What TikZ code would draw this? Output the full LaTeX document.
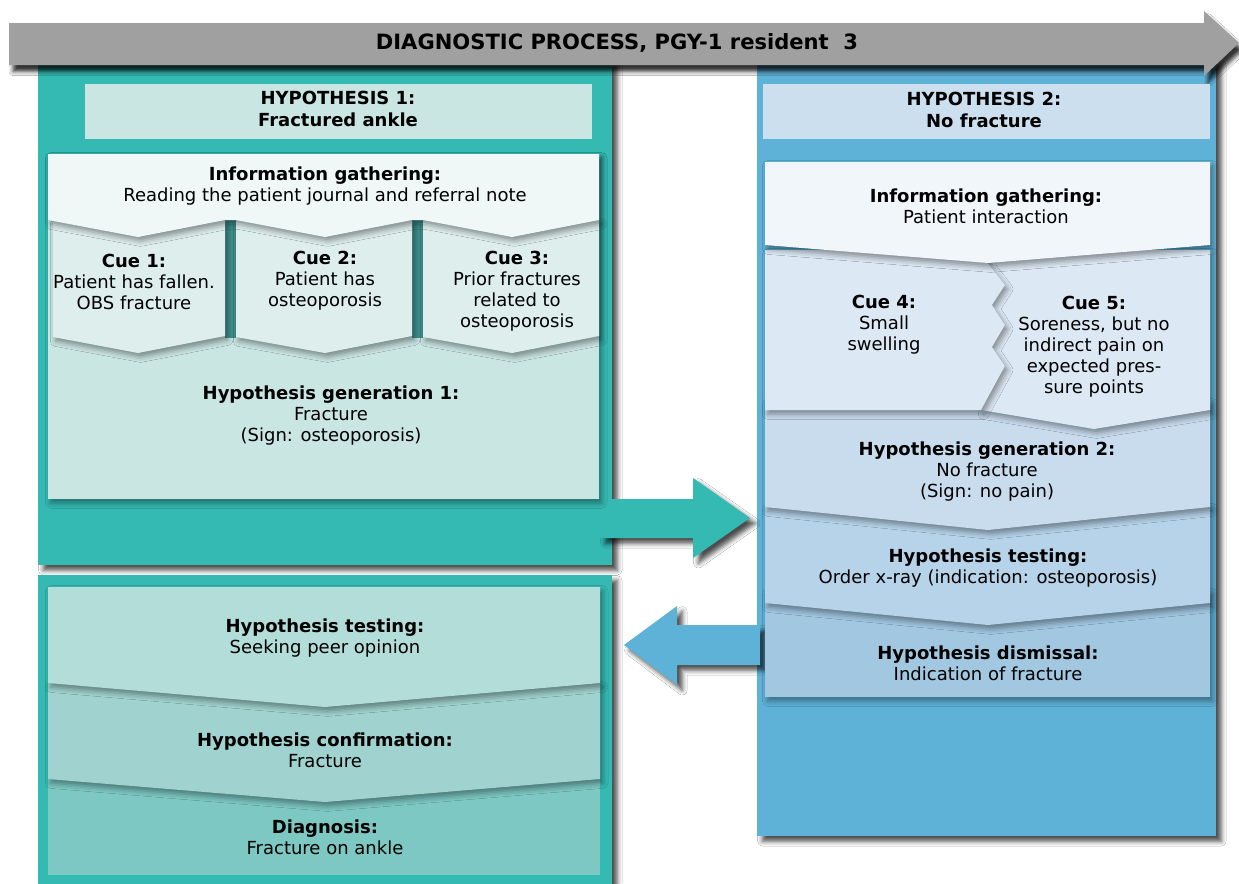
\documentclass[tikz,border=0pt]{standalone}
\usepackage{fontspec}
\setmainfont{DejaVu Sans}
\usetikzlibrary{shadows.blur}
\definecolor{bannergray}{HTML}{A0A0A0}
\definecolor{tealbox}{HTML}{35B9B3}
\definecolor{tealhead}{HTML}{C9E6E3}
\definecolor{infow}{HTML}{F0F7F7}
\definecolor{cuelight}{HTML}{DDEEED}
\definecolor{hypgen}{HTML}{CAE6E3}
\definecolor{gapteal}{HTML}{3E8F8B}
\definecolor{ltest}{HTML}{B3DDD9}
\definecolor{lconf}{HTML}{A0D3CF}
\definecolor{ldiag}{HTML}{7DC8C2}
\definecolor{bluebox}{HTML}{5FB2D7}
\definecolor{bluehead}{HTML}{CCDFEE}
\definecolor{infob}{HTML}{F1F6FA}
\definecolor{cueblue}{HTML}{DCE8F3}
\definecolor{bgen}{HTML}{C8DCEE}
\definecolor{btest}{HTML}{B6D3E9}
\definecolor{bdis}{HTML}{A1C7E1}
\tikzset{
  bigshadow/.style={blur shadow={shadow xshift=4pt, shadow yshift=-4pt, shadow blur radius=3.5pt, shadow opacity=70}},
  smallshadow/.style={blur shadow={shadow xshift=2pt, shadow yshift=-3pt, shadow blur radius=4pt, shadow opacity=40}},
  txt/.style={align=center, inner sep=0pt, font=\fontsize{13.5}{15.75}\selectfont},
  btxt/.style={align=center, inner sep=0pt, font=\fontsize{13.5}{16.5}\selectfont\bfseries},
}
\begin{document}
\begin{tikzpicture}[x=0.75pt, y=-0.75pt]
\useasboundingbox (0,0) rectangle (1239,883);
\fill[white] (0,0) rectangle (1239,883);

% big containers
\fill[tealbox, bigshadow] (38,60) rectangle (612,565);
\fill[bluebox, bigshadow] (757,60) rectangle (1216,836);
\fill[tealbox, bigshadow] (38,575) rectangle (612,900);

% block arrows
\fill[tealbox, bigshadow] (600,499) -- (693,499) -- (693,478) -- (750,518) -- (693,558) -- (693,538) -- (600,538) -- cycle;
\fill[bluebox, bigshadow] (760,625) -- (677,625) -- (677,606) -- (624,645) -- (677,685) -- (677,665) -- (760,665) -- cycle;

% banner
\fill[bannergray, blur shadow={shadow xshift=3pt, shadow yshift=-5pt, shadow blur radius=3pt, shadow opacity=80}]
  (9,23) -- (1204,23) -- (1204,11) -- (1239,43) -- (1204,76) -- (1204,65) -- (9,65) -- cycle;

% ---------- left upper ----------
\fill[tealhead] (85,84) rectangle (592,139);
\fill[hypgen, smallshadow] (48,154) rectangle (599,499);
\fill[gapteal] (225,220) rectangle (236,338);
\fill[gapteal] (412,220) rectangle (423,338);
\fill[cuelight, smallshadow] (53,220) -- (225,220) -- (225,336) -- (138,353) -- (53,337) -- cycle;
\fill[cuelight, smallshadow] (236,220) -- (412,220) -- (412,336) -- (325,353) -- (236,337) -- cycle;
\fill[cuelight, smallshadow] (423,220) -- (599,220) -- (599,336) -- (512,353) -- (423,337) -- cycle;
\fill[infow, smallshadow] (48,154) -- (599,154) -- (599,220) -- (512,237) -- (423,220) -- (412,220) -- (325,237)
  -- (236,220) -- (225,220) -- (138,237) -- (48,220) -- cycle;

% ---------- left lower ----------
\fill[ldiag] (48,760) rectangle (600,875);
\fill[lconf, smallshadow] (48,683) -- (600,683) -- (600,779) -- (325,802) -- (48,779) -- cycle;
\fill[ltest, smallshadow] (48,587) -- (600,587) -- (600,683) -- (325,707) -- (48,683) -- cycle;

% ---------- right ----------
\fill[bluehead] (763,84) rectangle (1210,139);
\fill[bdis, smallshadow] (765,590) rectangle (1210,697);
\fill[btest, smallshadow] (765,505) -- (1210,505) -- (1210,603) -- (988,625) -- (765,603) -- cycle;
\fill[bgen, smallshadow] (765,400) -- (1210,400) -- (1210,507) -- (988,530) -- (765,507) -- cycle;
\fill[cueblue, smallshadow] (980,250) -- (1210,250) -- (1210,410) -- (1094,429) -- (981,410) -- (1005,366)
  -- (992,347) -- (1005,325) -- (992,305) -- (1005,285) -- (988,263) -- cycle;
\fill[cueblue, smallshadow] (765,250) -- (988,250) -- (988,263) -- (1005,285) -- (992,305) -- (1005,325)
  -- (992,347) -- (1005,366) -- (981,410) -- (765,410) -- cycle;
\fill[infob, smallshadow] (765,162) -- (1210,162) -- (1210,245) -- (988,263) -- (765,245) -- cycle;

% ---------- texts ----------
\node[inner sep=0pt, font=\fontsize{15.8}{18}\selectfont\bfseries] (title) at (617,43) {DIAGNOSTIC PROCESS, PGY-1 resident\ \ 3};

\node[btxt] (h1) at (338,109) {HYPOTHESIS 1:\\Fractured ankle};
\node[txt] (ig1) at (325,186) {\textbf{Information gathering:}\\Reading the patient journal and referral note};
\node[txt] (c1) at (134,282) {\textbf{Cue 1:}\\Patient has fallen.\\OBS fracture};
\node[txt] (c2) at (325,281) {\textbf{Cue 2:}\\Patient has\\osteoporosis};
\node[txt] (c3) at (517,291) {\textbf{Cue 3:}\\Prior fractures\\related to\\osteoporosis};
\node[txt] (hg1) at (331,416) {\textbf{Hypothesis generation 1:}\\Fracture\\(Sign: osteoporosis)};

\node[txt] (ht1) at (325,638) {\textbf{Hypothesis testing:}\\Seeking peer opinion};
\node[txt] (hc1) at (325,750) {\textbf{Hypothesis confirmation:}\\Fracture};
\node[txt] (dg1) at (325,837) {\textbf{Diagnosis:}\\Fracture on ankle};

\node[btxt] (h2) at (984,110) {HYPOTHESIS 2:\\No fracture};
\node[txt] (ig2) at (986,206) {\textbf{Information gathering:}\\Patient interaction};
\node[txt] (c4) at (884,325) {\textbf{Cue 4:}\\Small\\swelling};
\node[txt] (c5) at (1094,347) {\textbf{Cue 5:}\\Soreness, but no\\indirect pain on\\expected pres-\\sure points};
\node[txt] (hg2) at (987,472) {\textbf{Hypothesis generation 2:}\\No fracture\\(Sign: no pain)};
\node[txt] (ht2) at (988,568) {\textbf{Hypothesis testing:}\\Order x-ray (indication: osteoporosis)};
\node[txt] (hd2) at (988,663) {\textbf{Hypothesis dismissal:}\\Indication of fracture};
\end{tikzpicture}
\end{document}
